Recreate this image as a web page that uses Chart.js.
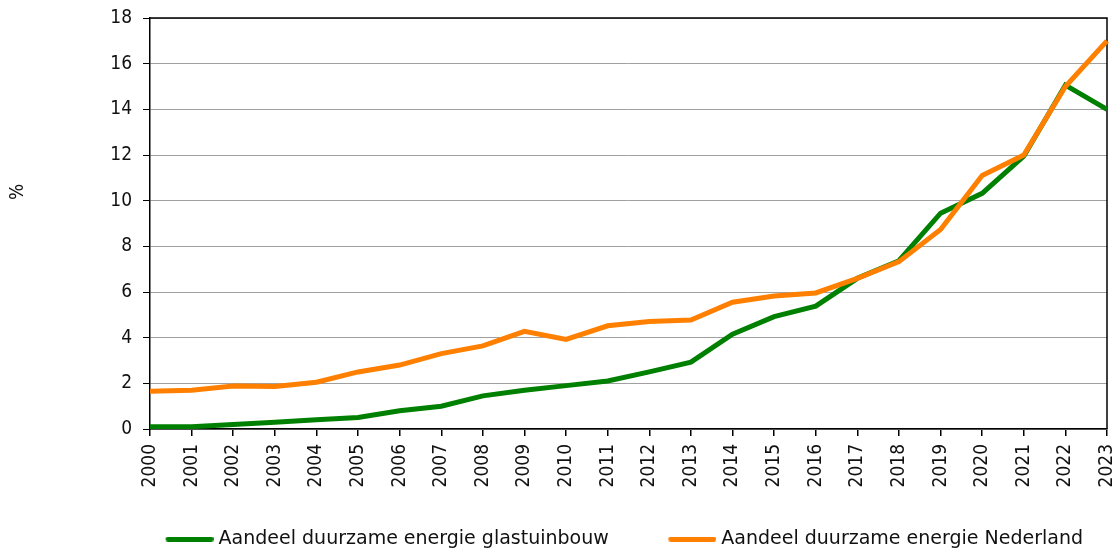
<!DOCTYPE html>
<html>
<head>
<meta charset="utf-8">
<script src="https://cdn.jsdelivr.net/npm/chart.js@4.4.1/dist/chart.umd.min.js"></script>
<style>
html,body{margin:0;padding:0;background:#fff;overflow:hidden}
#wrap{position:relative;width:1119px;height:553px}
</style>
</head>
<body>
<div id="wrap"><canvas id="c"></canvas></div>
<script>
const years = ['2000','2001','2002','2003','2004','2005','2006','2007','2008','2009','2010','2011','2012','2013','2014','2015','2016','2017','2018','2019','2020','2021','2022','2023'];
const glastuinbouw = [0.1,0.1,0.2,0.3,0.4,0.5,0.8,1.0,1.45,1.7,1.9,2.1,2.5,2.93,4.15,4.92,5.38,6.6,7.37,9.45,10.32,11.95,15.06,14.0];
const nederland = [1.65,1.7,1.88,1.86,2.05,2.5,2.8,3.3,3.64,4.28,3.92,4.52,4.71,4.77,5.55,5.82,5.96,6.6,7.33,8.74,11.1,12.0,15.0,17.0];
const seriesNames = ['Aandeel duurzame energie glastuinbouw','Aandeel duurzame energie Nederland'];
const seriesColors = ['#008000','#ff8000'];
const yMin = 0, yMax = 18, yStep = 2;
const yAxisTitle = '%';

const tickFont = {family:"'DejaVu Sans Condensed', 'DejaVu Sans', sans-serif", size:19};
const legendFont = {family:"'DejaVu Sans', sans-serif", size:19};

// legend marker: a short thick line placed at the right part of a wider transparent swatch
function legendSwatch(color){
  const c = document.createElement('canvas');
  c.width = 88; c.height = 5;
  const g = c.getContext('2d');
  g.strokeStyle = color;
  g.lineWidth = 5;
  g.lineCap = 'round';
  g.beginPath();
  g.moveTo(42.5, 2.5);
  g.lineTo(85.5, 2.5);
  g.stroke();
  return c;
}

const framePlugin = {
  id:'frame',
  beforeDatasetsDraw(chart){
    const {ctx, chartArea:a} = chart;
    ctx.save();
    ctx.strokeStyle = '#000';
    ctx.lineWidth = 1.5;
    ctx.beginPath();
    ctx.moveTo(a.left, a.top);
    ctx.lineTo(a.right, a.top);
    ctx.lineTo(a.right, a.bottom);
    ctx.stroke();
    ctx.restore();
  },
  afterDraw(chart){
    const {ctx} = chart;
    ctx.save();
    ctx.translate(18.5, 192);
    ctx.rotate(-Math.PI/2);
    ctx.textAlign = 'center';
    ctx.textBaseline = 'middle';
    ctx.fillStyle = '#111';
    ctx.font = "19px 'DejaVu Sans Condensed', 'DejaVu Sans', sans-serif";
    ctx.fillText(yAxisTitle, 0, 0);
    ctx.restore();
  }
};

new Chart(document.getElementById('c'), {
  type:'line',
  data:{
    labels: years,
    datasets:[
      {label: seriesNames[0], data: glastuinbouw, borderColor: seriesColors[0], backgroundColor: seriesColors[0], borderWidth:5, pointRadius:0, pointHoverRadius:0, pointStyle: legendSwatch(seriesColors[0]), tension:0, order:1},
      {label: seriesNames[1], data: nederland, borderColor: seriesColors[1], backgroundColor: seriesColors[1], borderWidth:5, pointRadius:0, pointHoverRadius:0, pointStyle: legendSwatch(seriesColors[1]), tension:0, order:0}
    ]
  },
  options:{
    responsive:true,
    maintainAspectRatio:false,
    animation:false,
    devicePixelRatio:1,
    events:[],
    layout:{padding:{top:18, right:12, bottom:-5.5, left:0}},
    plugins:{
      tooltip:{enabled:false},
      legend:{
        position:'bottom',
        align:'end',
        labels:{
          usePointStyle:true,
          pointStyleWidth:79,
          padding:24,
          color:'#111',
          font:legendFont,
          sort:(a,b)=>a.datasetIndex-b.datasetIndex
        }
      }
    },
    scales:{
      x:{
        type:'category',
        offset:false,
        grid:{display:true, drawOnChartArea:false, drawTicks:true, tickLength:7, tickColor:'#000', lineWidth:1.5},
        border:{display:true, color:'#000', width:1.5},
        ticks:{autoSkip:false, minRotation:90, maxRotation:90, padding:8, color:'#111', font:tickFont},
        afterFit(s){ s.height = 76.5; s.paddingLeft = 0; s.paddingRight = 0; }
      },
      y:{
        min:yMin, max:yMax,
        grid:{color:'#a0a0a0', lineWidth:1, tickColor:'#000', tickLength:7, drawTicks:true},
        border:{display:true, color:'#000', width:1.5},
        ticks:{stepSize:yStep, padding:11, color:'#111', font:tickFont},
        afterFit(s){ s.width = 150; s.paddingTop = 0; s.paddingBottom = 0; }
      }
    }
  },
  plugins:[framePlugin]
});
</script>
</body>
</html>
